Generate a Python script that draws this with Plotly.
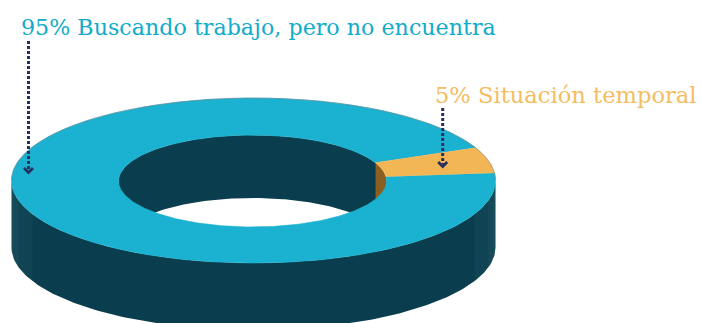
import numpy as np
import plotly.graph_objects as go

categories = ["Buscando trabajo, pero no encuentra", "Situación temporal"]
values = [95, 5]
slice_colors = ["#1bb1d0", "#f2b655"]
wall_colors = ["#0a3e4e", "#8a5f22"]
label_colors = ["#12abcb", "#f3bd62"]

# geometry of the tilted ring, in pixels of the 702x323 picture
CX, CY, RX, RY = 253.5, 180.5, 242, 82.5
ICX, ICY, IRX, IRY = 252.5, 181, 134, 46
DEPTH = 63
START = 23.3  # degrees; the first slice starts here and runs counter-clockwise


def outer(t, dy=0):
    t = np.radians(t)
    return CX + RX * np.cos(t), CY - RY * np.sin(t) + dy


def inner(t, dy=0):
    t = np.radians(t)
    return ICX + IRX * np.cos(t), ICY - IRY * np.sin(t) + dy


def poly(x, y, color, line=None):
    return go.Scatter(x=list(x), y=list(y), mode="lines", fill="toself", fillcolor=color,
                      line=dict(width=0.6 if line else 0, color=line or color),
                      hoverinfo="skip", showlegend=False)


fig = go.Figure()

# slice angles from the values
total = sum(values)
spans = [v / total * 360 for v in values]
starts = [START, START + spans[0]]

# outer side wall (front half)
t = np.linspace(180, 360, 181)
x1, y1 = outer(t)
x2, y2 = outer(t[::-1], DEPTH + 4)
fig.add_trace(poly(np.r_[x1, x2], np.r_[y1, y2], wall_colors[0]))

# soft light on both ends of the side wall
for a0, a1 in [(180, 186), (180, 194), (180, 204), (354, 360), (346, 360), (336, 360)]:
    t = np.linspace(a0, a1, 30)
    x1, y1 = outer(t)
    x2, y2 = outer(t[::-1], DEPTH + 4)
    fig.add_trace(poly(np.r_[x1, x2], np.r_[y1, y2], "rgba(140,190,205,0.05)"))

# inner wall (back half of the hole)
t = np.linspace(0, 180, 181)
x1, y1 = inner(t)
x2, y2 = inner(t[::-1], DEPTH)
fig.add_trace(poly(np.r_[x1, x2], np.r_[y1, y2], wall_colors[0]))

# inner wall of the small slice
t = np.linspace(starts[1] % 360, starts[1] % 360 + spans[1], 40)
x1, y1 = inner(t)
x2, y2 = inner(t[::-1], DEPTH)
fig.add_trace(poly(np.r_[x1, x2], np.r_[y1, y2], wall_colors[1]))

# top faces
for s, w, c in zip(starts, spans, slice_colors):
    t = np.linspace(s, s + w, 400)
    x1, y1 = outer(t)
    x2, y2 = inner(t[::-1])
    fig.add_trace(poly(np.r_[x1, x2], np.r_[y1, y2], c, line=c))

# rim highlight along the back edge
t = np.linspace(0, 180, 181)
x1, y1 = outer(t)
fig.add_trace(go.Scatter(x=x1, y=y1, mode="lines", line=dict(width=1, color="rgba(120,130,135,0.55)"),
                         hoverinfo="skip", showlegend=False))

# leader arrows
ARROW = "#2a2f63"
for x, y0, y1 in [(28.5, 41, 170), (442.7, 108, 164)]:
    fig.add_trace(go.Scatter(x=[x, x], y=[y0, y1], mode="lines",
                             line=dict(color=ARROW, width=3, dash="3px,2px"),
                             hoverinfo="skip", showlegend=False))
    fig.add_trace(go.Scatter(x=[x - 4.5, x, x + 4.5], y=[y1 - 2, y1 + 2.5, y1 - 2], mode="lines",
                             line=dict(color=ARROW, width=2.8),
                             hoverinfo="skip", showlegend=False))

FONT = "DejaVu Serif"
fig.add_annotation(x=19, y=27, xref="x", yref="y", text=f"{values[0]}% {categories[0]}", showarrow=False,
                   xanchor="left", yanchor="middle", font=dict(family=FONT, size=22.2, color=label_colors[0]))
fig.add_annotation(x=433, y=95, xref="x", yref="y", text=f"{values[1]}% {categories[1]}", showarrow=False,
                   xanchor="left", yanchor="middle", font=dict(family=FONT, size=22.6, color=label_colors[1]))

fig.update_layout(width=702, height=323, margin=dict(l=0, r=0, t=0, b=0),
                  paper_bgcolor="white", plot_bgcolor="white", showlegend=False,
                  xaxis=dict(range=[0, 702], visible=False, fixedrange=True),
                  yaxis=dict(range=[323, 0], visible=False, fixedrange=True))
fig.write_html("out.html", config=dict(displayModeBar=False),
               post_script="document.body.style.margin='0';document.body.style.overflow='hidden';")
